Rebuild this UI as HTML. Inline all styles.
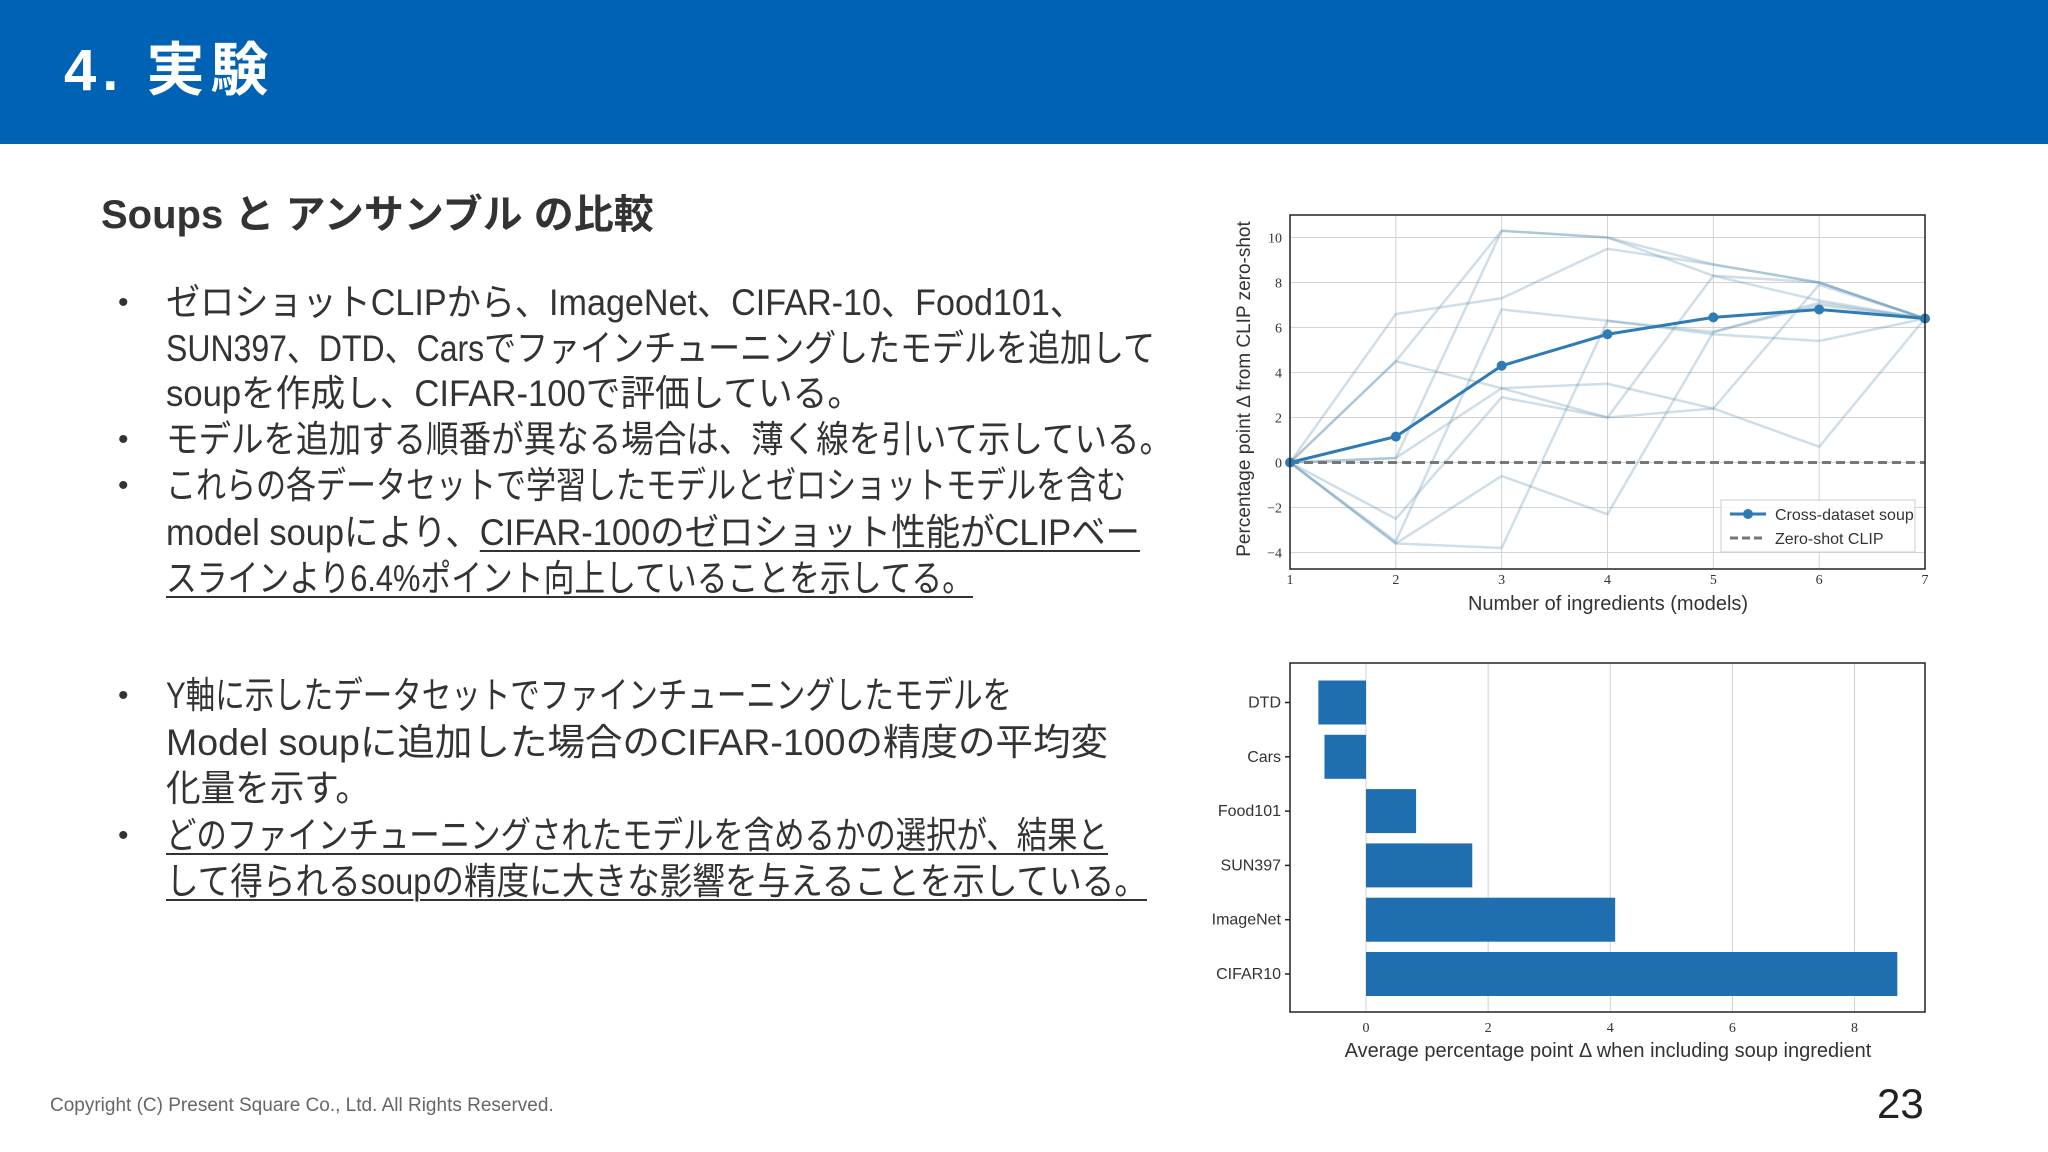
<!DOCTYPE html>
<html><head><meta charset="utf-8">
<style>
body{margin:0;width:2048px;height:1152px;background:#fff;overflow:hidden;position:relative;font-family:"Liberation Sans","Noto Sans CJK JP",sans-serif;}
.hdr{position:absolute;left:0;top:0;width:2048px;height:144px;background:#0062b4;}
.ttl{position:absolute;left:64px;top:36px;color:#fff;font-size:58px;font-weight:bold;line-height:70px;letter-spacing:6px;}
.sub{position:absolute;left:101px;top:190px;font-size:40px;font-weight:bold;color:#333;line-height:50px;white-space:nowrap;}
.ln{position:absolute;left:166px;font-size:37px;color:#333;white-space:nowrap;line-height:46px;transform-origin:0 50%;}
.bl{position:absolute;left:118px;font-size:30px;color:#333;line-height:46px;}
u{text-decoration-thickness:2px;text-underline-offset:5px;}
.ft{position:absolute;left:50px;top:1095px;font-size:19px;color:#666;}
.pg{position:absolute;left:1877px;top:1080px;font-size:42px;color:#222;}
svg{position:absolute;left:0;top:0;}
</style></head><body>
<div class="hdr"></div>
<div class="ttl">4. 実験</div>
<div class="sub">Soups と アンサンブル の比較</div>

<div class="bl" style="top:280px">•</div>
<div class="ln" data-w="918" style="top:280px">ゼロショットCLIPから、ImageNet、CIFAR-10、Food101、</div>
<div class="ln" data-w="989" style="top:326px">SUN397、DTD、Carsでファインチューニングしたモデルを追加して</div>
<div class="ln" data-w="696" style="top:371px">soupを作成し、CIFAR-100で評価している。</div>
<div class="bl" style="top:417px">•</div>
<div class="ln" data-w="1006" style="top:417px">モデルを追加する順番が異なる場合は、薄く線を引いて示している。</div>
<div class="bl" style="top:463px">•</div>
<div class="ln" data-w="960" style="top:463px">これらの各データセットで学習したモデルとゼロショットモデルを含む</div>
<div class="ln" data-w="974" style="top:510px">model soupにより、<u>CIFAR-100のゼロショット性能がCLIPベー</u></div>
<div class="ln" data-w="807" style="top:556px"><u>スラインより6.4%ポイント向上していることを示してる。</u></div>
<div class="bl" style="top:673px">•</div>
<div class="ln" data-w="846" style="top:673px">Y軸に示したデータセットでファインチューニングしたモデルを</div>
<div class="ln" data-w="942" style="top:720px">Model soupに追加した場合のCIFAR-100の精度の平均変</div>
<div class="ln" data-w="204" style="top:766px">化量を示す。</div>
<div class="bl" style="top:813px">•</div>
<div class="ln" data-w="942" style="top:813px"><u>どのファインチューニングされたモデルを含めるかの選択が、結果と</u></div>
<div class="ln" data-w="981" style="top:859px"><u>して得られるsoupの精度に大きな影響を与えることを示している。</u></div>

<div class="ft">Copyright (C) Present Square Co., Ltd. All Rights Reserved.</div>
<div class="pg">23</div>

<svg id="chart" width="2048" height="1152"></svg>
<script>
document.querySelectorAll('.ln').forEach(e=>{const w=+e.getAttribute('data-w');const a=e.getBoundingClientRect().width;if(a>0)e.style.transform='scaleX('+(w/a)+')';});

const ingredientsX=[1,2,3,4,5,6,7];
const lineYTicks=[-4,-2,0,2,4,6,8,10];
const soupValues=[0,1.15,4.3,5.7,6.45,6.8,6.4];
const orderLine1=[0,6.6,7.3,9.5,8.8,8.0,6.4];
const orderLine2=[0,4.5,10.3,10.0,8.3,8.0,6.4];
const orderLine3=[0,4.5,3.3,2.0,2.4,0.7,6.4];
const orderLine4=[0,0.2,3.3,3.5,2.4,7.9,6.4];
const orderLine5=[0,-2.5,2.9,2.0,8.3,7.2,6.4];
const orderLine6=[0,-3.5,6.8,6.3,5.7,5.4,6.4];
const orderLine7=[0,-3.6,-3.8,6.3,5.8,7.1,6.4];
const orderLine8=[0,-3.6,-0.6,-2.3,5.8,7.0,6.4];
const orderLine9=[0,0.2,10.3,10.0,8.8,8.0,6.4];
const barCategories=["DTD","Cars","Food101","SUN397","ImageNet","CIFAR10"];
const barValues=[-0.78,-0.68,0.82,1.74,4.08,8.7];
const barXTicks=[0,2,4,6,8];

const NS="http://www.w3.org/2000/svg";
const svg=document.getElementById('chart');
function mk(tag,at,txt){const e=document.createElementNS(NS,tag);for(const k in at)e.setAttribute(k,at[k]);if(txt!==undefined)e.textContent=txt;svg.appendChild(e);return e;}

const L={l:1290,r:1925,t:215,b:569};
const lx=v=>L.l+(v-1)/6*(L.r-L.l);
const ly=v=>462.5-v*22.5;
ingredientsX.forEach(v=>{
  let g=mk('line',{x1:lx(v),x2:lx(v),y1:L.t,y2:L.b,stroke:'#d4d4d4','stroke-width':1});
  
  
  let t=mk('text',{x:lx(v),y:L.b+15,'font-size':14,'text-anchor':'middle','font-family':'Liberation Serif, serif',fill:'#333'},v);
  
  
});
lineYTicks.forEach(v=>{
  let g=mk('line',{x1:L.l,x2:L.r,y1:ly(v),y2:ly(v),stroke:'#d4d4d4','stroke-width':1});
  
  
  let t=mk('text',{x:L.l-8,y:ly(v)+5,'font-size':14,'text-anchor':'end','font-family':'Liberation Serif, serif',fill:'#333'},v<0?'−'+(-v):v);
  
  
});
const orders=[orderLine1,orderLine2,orderLine3,orderLine4,orderLine5,orderLine6,orderLine7,orderLine8,orderLine9];
orders.forEach(arr=>{
  let p=mk('polyline',{points:arr.map((v,i)=>lx(ingredientsX[i])+','+ly(v)).join(' '),fill:'none',stroke:'#5f93b3','stroke-opacity':0.3,'stroke-width':2.5});
  
  
});
let z=mk('line',{x1:L.l,x2:L.r,y1:ly(0),y2:ly(0),stroke:'#777','stroke-width':3,'stroke-dasharray':'9,5'});


let sp=mk('polyline',{points:soupValues.map((v,i)=>lx(ingredientsX[i])+','+ly(v)).join(' '),fill:'none',stroke:'#2f7bb5','stroke-width':3});


soupValues.forEach((v,i)=>{
  let c=mk('circle',{cx:lx(ingredientsX[i]),cy:ly(v),r:5,fill:'#2f7bb5'});
  
  
});
let fr=mk('rect',{x:L.l,y:L.t,width:L.r-L.l,height:L.b-L.t,fill:'none',stroke:'#222','stroke-width':1.5});


let lg=mk('rect',{x:1721,y:500,width:194,height:52,fill:'#fff','fill-opacity':0.85,stroke:'#ccc'});


mk('line',{x1:1730,x2:1766,y1:514,y2:514,stroke:'#2f7bb5','stroke-width':3});
mk('circle',{cx:1748,cy:514,r:5,fill:'#2f7bb5'});
let le1=mk('text',{x:1775,y:520,'font-size':16,fill:'#333'},'Cross-dataset soup');


mk('line',{x1:1730,x2:1766,y1:538,y2:538,stroke:'#777','stroke-width':3,'stroke-dasharray':'8,4'});
let le2=mk('text',{x:1775,y:544,'font-size':16,fill:'#333'},'Zero-shot CLIP');


let xl=mk('text',{x:1608,y:610,'font-size':20,'text-anchor':'middle',fill:'#333'},'Number of ingredients (models)');


let yl=mk('text',{x:0,y:0,'font-size':19,'text-anchor':'middle',fill:'#333',transform:'translate(1250,389) rotate(-90)'},'Percentage point Δ from CLIP zero-shot');



const B={l:1290,r:1925,t:663,b:1012};
const bx=v=>1366+v*61.07;
const step=54.3, bh=44;
barXTicks.forEach(v=>{
  let g=mk('line',{x1:bx(v),x2:bx(v),y1:B.t,y2:B.b,stroke:'#d0d0d0','stroke-width':1});
  
  
  let t=mk('text',{x:bx(v),y:B.b+20,'font-size':14,'text-anchor':'middle','font-family':'Liberation Serif, serif',fill:'#333'},v);
  
  
});
barCategories.forEach((c,i)=>{
  const cy=702.5+i*step, v=barValues[i];
  let r=mk('rect',{x:Math.min(bx(0),bx(v)),y:cy-bh/2,width:Math.abs(bx(v)-bx(0)),height:bh,fill:'#1f6fb0'});
  
  
  mk('line',{x1:B.l-5,x2:B.l,y1:cy,y2:cy,stroke:'#222','stroke-width':1.5});
  let t=mk('text',{x:B.l-9,y:cy+5,'font-size':16,'text-anchor':'end',fill:'#333'},c);
  
  
});
let bf=mk('rect',{x:B.l,y:B.t,width:B.r-B.l,height:B.b-B.t,fill:'none',stroke:'#222','stroke-width':1.5});


let bxl=mk('text',{x:1608,y:1057,'font-size':20,'text-anchor':'middle',fill:'#333'},'Average percentage point Δ when including soup ingredient');


</script>
</body></html>
